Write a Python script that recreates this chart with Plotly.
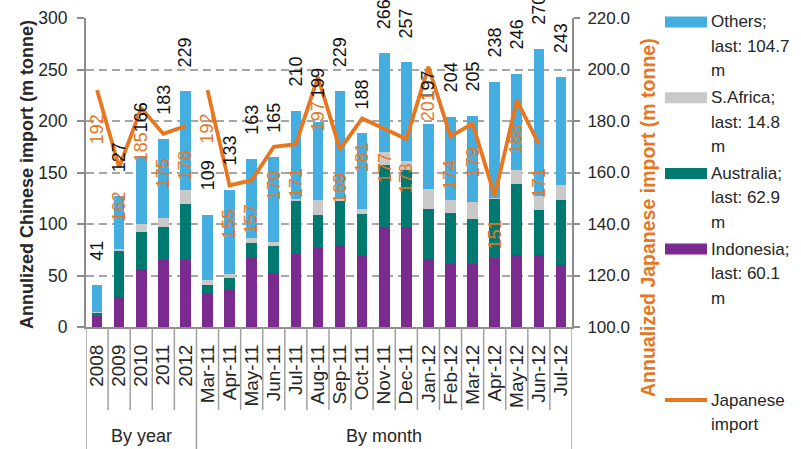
import math
import plotly.graph_objects as go

# ---- data -------------------------------------------------------------
years = ["2008", "2009", "2010", "2011", "2012"]
months = ["Mar-11", "Apr-11", "May-11", "Jun-11", "Jul-11", "Aug-11", "Sep-11",
          "Oct-11", "Nov-11", "Dec-11", "Jan-12", "Feb-12", "Mar-12", "Apr-12",
          "May-12", "Jun-12", "Jul-12"]
categories = years + months

# Annualized Chinese coal imports by origin (m tonne)
indonesia = [11, 29.5, 56, 64.8, 64.8,
             33.4, 36.6, 67.4, 51, 70.6, 77, 79.3, 69.6, 97, 97.5,
             66.4, 60.9, 60.9, 67.4, 69.6, 69.6, 60.1]
australia = [3, 45, 36.6, 32.2, 54.2,
             7.4, 10.7, 14.6, 27.6, 52.4, 31.4, 42.7, 39.8, 60, 55,
             48.6, 50.1, 43.7, 57.3, 69.4, 44.4, 62.9]
s_africa = [0.5, 1.5, 7.4, 9, 13.7,
            4.5, 3.7, 4.8, 4.3, 1.7, 14.6, 2, 5.6, 13, 8.5,
            18.7, 12, 16.5, 1, 13, 13, 14.8]
others = [26.5, 51, 66, 77, 96.3,
          63.7, 82, 76.2, 82.1, 85.3, 76, 105, 73, 96, 96,
          63.3, 81, 83.9, 112.3, 94, 143, 104.7]

# Annualized Japanese imports (m tonne)
japan_year = [192, 162, 185, 175, 178]
japan_month = [192, 155, 157, 170, 171, 197, 169, 181, 177, 173,
               201, 174, 179, 151, 188, 171, None]

groups = [("By year", years), ("By month", months)]

# ---- styling ----------------------------------------------------------
W, H = 801, 449
PL, PR, PT, PB = 86, 572, 18, 327          # plot area in pixels
FONT = "Liberation Sans, Arial, sans-serif"
C_OTH = "#45AEE0"
C_SA = "#C9C9C9"
C_AUS = "#007A70"
C_IND = "#7B2A8F"
C_JP = "#E8761E"
AX = "#8C8C8C"
TXT = "#262626"


def fx(p):
    return (p - PL) / (PR - PL)


def fy(p):
    return (PB - p) / (PB - PT)


fig = go.Figure()

for name, vals, col in [("Indonesia", indonesia, C_IND),
                        ("Australia", australia, C_AUS),
                        ("S.Africa", s_africa, C_SA),
                        ("Others", others, C_OTH)]:
    fig.add_trace(go.Bar(x=categories, y=vals, name=name, marker_color=col,
                         marker_line_width=0, showlegend=False))

fig.add_trace(go.Scatter(x=years, y=japan_year, yaxis="y2", mode="lines",
                         line=dict(color=C_JP, width=3.8), showlegend=False))
fig.add_trace(go.Scatter(x=months, y=japan_month, yaxis="y2", mode="lines",
                         line=dict(color=C_JP, width=3.8), showlegend=False,
                         connectgaps=False))

annotations = []
shapes = []
n = len(categories)

# stack totals above each bar (category index used as x position)
totals = [a + b + c + d for a, b, c, d in zip(indonesia, australia, s_africa, others)]
for i, t in enumerate(totals):
    annotations.append(dict(x=i, y=t, xref="x", yref="y", text=str(int(math.floor(t + 0.5 + 1e-9))),
                            textangle=-90, showarrow=False, xanchor="center", yanchor="bottom",
                            yshift=22, font=dict(family=FONT, size=18, color="#111111")))

# Japanese import values below the line points
for i, v in enumerate(japan_year + japan_month):
    if v is None:
        continue
    annotations.append(dict(x=i, y=v, xref="x", yref="y2", text=f"{v:.0f}",
                            textangle=-90, showarrow=False, xanchor="center", yanchor="top",
                            yshift=-22, font=dict(family=FONT, size=18, color=C_JP)))

# category separators and group dividers under the x axis
group_edges = {0}
start = 0
for label, cats in groups:
    end = start + len(cats)
    group_edges.add(end)
    annotations.append(dict(x=(start + end - 1) / 2, y=fy(436), xref="x", yref="paper",
                            text=label, showarrow=False, xanchor="center", yanchor="middle",
                            font=dict(family=FONT, size=18, color=TXT)))
    start = end
for k in range(n + 1):
    bottom = H if k in group_edges else 410
    shapes.append(dict(type="line", xref="x", yref="paper", x0=k - 0.5, x1=k - 0.5,
                       y0=0, y1=fy(bottom), line=dict(color="#A0A0A0", width=1.5)))

# axis titles
annotations.append(dict(x=fx(27), y=fy(175), xref="paper", yref="paper",
                        text="<b>Annulized Chinese import (m tonne)</b>", textangle=-90,
                        showarrow=False, xanchor="center", yanchor="middle",
                        font=dict(family=FONT, size=18, color=TXT)))
annotations.append(dict(x=fx(648), y=fy(218), xref="paper", yref="paper",
                        text="<b>Annualized Japanese import (m tonne)</b>", textangle=-90,
                        showarrow=False, xanchor="center", yanchor="middle",
                        font=dict(family=FONT, size=19.5, color=C_JP)))

# legend
legend_items = [("Others", others, C_OTH), ("S.Africa", s_africa, C_SA),
                ("Australia", australia, C_AUS), ("Indonesia", indonesia, C_IND)]
for i, (name, vals, col) in enumerate(legend_items):
    yc = 22 + i * 75.7
    shapes.append(dict(type="rect", xref="paper", yref="paper", x0=fx(665), x1=fx(707),
                       y0=fy(yc - 5.5), y1=fy(yc + 5.5), fillcolor=col, line_width=0))
    for j, line in enumerate([f"{name};", f"last: {vals[-1]:.1f}", "m"]):
        annotations.append(dict(x=fx(709), y=fy(yc + j * 24.5), xref="paper", yref="paper",
                                text=line, showarrow=False, xanchor="left", yanchor="middle",
                                font=dict(family=FONT, size=17, color=TXT)))
shapes.append(dict(type="line", xref="paper", yref="paper", x0=fx(665), x1=fx(707),
                   y0=fy(400), y1=fy(400), line=dict(color=C_JP, width=4)))
for j, line in enumerate(["Japanese", "import"]):
    annotations.append(dict(x=fx(709), y=fy(400 + j * 24.5), xref="paper", yref="paper",
                            text=line, showarrow=False, xanchor="left", yanchor="middle",
                            font=dict(family=FONT, size=17, color=TXT)))

fig.update_layout(
    width=W, height=H, autosize=False,
    margin=dict(l=PL, r=W - PR, t=PT, b=H - PB, pad=0),
    paper_bgcolor="white", plot_bgcolor="white",
    barmode="stack", bargap=0.52,
    font=dict(family=FONT, color=TXT),
    xaxis=dict(type="category", categoryorder="array", categoryarray=categories,
               range=[-0.5, n - 0.5], autorange=False,
               tickmode="array", tickvals=categories, ticktext=categories,
               showline=True, linecolor=AX, linewidth=2, ticks="", tickangle=-90,
               tickfont=dict(size=19, color=TXT), showgrid=False, automargin=False,
               ticklabelstandoff=8),
    yaxis=dict(range=[0, 300], dtick=50, showgrid=True, gridcolor="#A6A6A6",
               griddash="8px,5px", gridwidth=2, showline=True, linecolor=AX, linewidth=2,
               ticks="outside", ticklen=7, tickwidth=2, tickcolor=AX, zeroline=False,
               tickfont=dict(size=17.5, color=TXT), automargin=False, ticklabelstandoff=6),
    yaxis2=dict(range=[100, 220], dtick=20, tickformat=".1f", overlaying="y", side="right",
                showgrid=False, showline=True, linecolor=AX, linewidth=2, ticks="outside",
                ticklen=6, tickwidth=2, tickcolor=AX, zeroline=False,
                tickfont=dict(size=17, color=TXT), automargin=False, ticklabelstandoff=4),
    annotations=annotations,
    shapes=shapes,
)

fig.write_html("out.html")
